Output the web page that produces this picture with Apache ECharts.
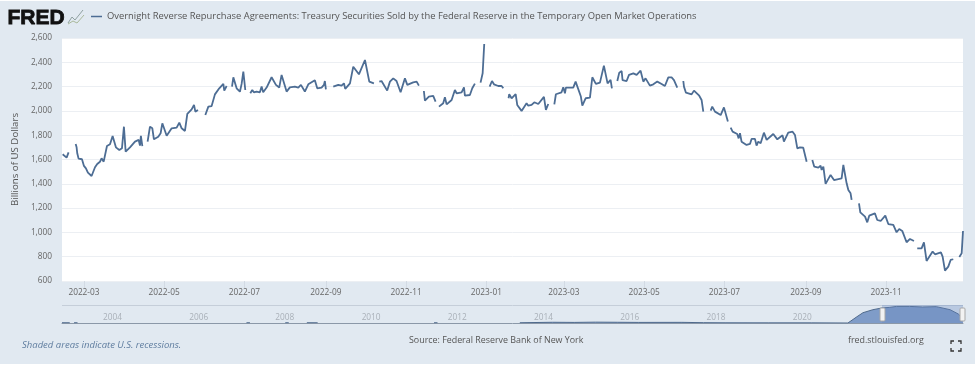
<!DOCTYPE html>
<html>
<head>
<meta charset="utf-8">
<title>FRED</title>
<script src="https://cdn.jsdelivr.net/npm/echarts@6/dist/echarts.min.js"></script>
<style>
  html, body { margin: 0; padding: 0; background: #fff; }
  #chart { width: 975px; height: 367px; background: linear-gradient(#fff 1px, #e1e9f1 1px, #e1e9f1 364px, #fff 364px); }
</style>
</head>
<body>
<div id="chart"></div>
<script>
var seriesName = 'Overnight Reverse Repurchase Agreements: Treasury Securities Sold by the Federal Reserve in the Temporary Open Market Operations'
var monthTicks = ['2022-03','2022-05','2022-07','2022-09','2022-11','2023-01','2023-03','2023-05','2023-07','2023-09','2023-11']
var yearTicks = [2004,2006,2008,2010,2012,2014,2016,2018,2020]

// days counted from 2022-03-01, null = gap in the line
var days = [-16.2,-14.7,-13.2,-11.7,null,
  -6.3,-5.6,-5.1,-4.1,-1.5,0,1.5,3,5.8,6.6,8.4,10.1,12.2,13.4,15,17.5,19.8,21.8,22.8,24.3,26.9,28.9,30.4,31.7,35,38.8,41.6,42.6,43.3,44.4,null,
  48.4,50.2,52,53.2,56.5,58.3,59.6,62.9,66.7,70.5,72.5,74.3,76.8,78.6,81.9,83.7,84.7,86.7,null,
  92.3,94.6,97.1,99.6,102.9,106,106.7,108.5,null,
  112.6,113.6,114.8,116.1,118.6,119.9,121.2,122.7,null,
  126.5,128,129.2,131.3,132.5,133.8,135.1,136.3,138.9,142.7,146,148.5,150.3,154.1,156.6,160.4,163,165,168,170.6,175.6,177.4,180.7,182.5,183.2,184,null,
  189.6,193.4,195.9,197.7,198.7,202.3,204.8,209.1,213.7,217,220.5,null,
  224.6,226.3,230.6,232.7,235.2,237.7,240.8,244.1,245.9,250.4,253,254.7,null,
  258.5,259.3,262.3,265.6,267.4,null,
  270,273.2,274.5,275.8,277,279.6,282.1,283.4,287.2,289,289.7,293.5,295.3,297.3,null,
  301.6,303.2,304.4,null,
  308.5,310.3,311.8,315.1,317.6,318.9,null,
  322.9,323.4,325.2,328.3,329.5,332.8,336.6,337.9,340.4,342.5,345.5,346.8,349.8,351.3,353.1,null,
  357.7,358.9,363.2,364.5,365.8,366.5,372.1,373.9,377.9,379,381.5,384.8,386.6,389.3,392.4,395.4,398.2,400.5,401.5,null,
  405.6,407.1,408.9,409.6,412.7,413.4,414.5,416,417.8,420.3,421.6,423.3,425.4,427.1,430.4,433,436,439.3,441.8,444.4,446.9,448.7,451.2,null,
  455.8,456.3,457.8,462.1,463.9,467.9,469.7,471,null,
  476.6,477.8,479.9,484.2,484.9,486.7,489.7,null,
  491.8,493.3,496.8,497.9,498.9,500.1,503.9,506.5,507.7,510.3,511.5,512.8,514.6,517.1,519.2,524.2,527.3,531.3,532.3,535.6,538.9,540.7,542.5,544.5,547,549.6,null,
  553.9,555.4,558.5,560.2,561,562.3,564,567.8,570.4,576.2,577.5,580,581.3,583,583.8,null,
  589.4,590.4,594,595.7,597.2,601.5,603.3,605.9,609.4,611.7,615.5,618,620,622.3,625.6,628.2,631.2,null,
  633.7,637,638.8,640.8,645.4,647.2,651.7,653,654.8,657.3,659.1,661.1,null,
  665.7,667.5,668.5]
var rrp = [1643,1656,1615,1659,null,
  1728,1700,1651,1607,1602,1547,1527,1492,1464,1459,1536,1563,1582,1610,1582,1711,1725,1794,1802,1700,1678,1692,1870,1665,1700,1747,1761,1714,1794,1711,null,
  1747,1870,1857,1766,1788,1816,1898,1796,1857,1862,1903,1857,1835,1975,2013,2049,1994,2008,null,
  1966,2035,2040,2136,2186,2222,2167,2205,null,
  2200,2276,2282,2186,2158,2222,2323,2172,null,
  2145,2172,2153,2159,2150,2153,2200,2153,2192,2277,2214,2192,2296,2159,2194,2200,2192,2214,2159,2219,2252,2186,2192,2214,2246,2178,null,
  2200,2214,2208,2227,2181,2227,2364,2301,2419,2241,2227,null,
  2241,2246,2167,2241,2268,2246,2153,2268,2214,2235,2241,2208,null,
  2164,2085,2118,2123,2076,null,
  2035,2063,2112,2054,2049,2090,2172,2145,2153,2194,2126,2131,2186,2225,null,
  2233,2310,2551,null,
  2200,2246,2219,2205,2205,2186,null,
  2104,2137,2104,2139,2049,2000,2063,2043,2049,2071,2057,2043,2115,2008,2057,null,
  2054,2137,2153,2194,2145,2192,2192,2241,2118,2043,2104,2109,2277,2222,2233,2373,2227,2255,2186,null,
  2246,2315,2328,2254,2246,2235,2296,2287,2309,2296,2282,2331,2241,2268,2208,2219,2241,2222,2205,2276,2276,2254,2191,null,
  2246,2200,2150,2136,2167,2125,2090,1994,null,
  2002,2035,1994,1966,1953,2029,1912,null,
  1862,1829,1810,1774,1816,1747,1720,1728,1769,1769,1714,1747,1733,1821,1761,1810,1766,1799,1747,1821,1829,1802,1692,1700,1697,1582,null,
  1596,1541,1533,1549,1514,1541,1399,1473,1431,1445,1555,1404,1349,1322,1267,null,
  1239,1165,1130,1083,1138,1157,1102,1094,1138,1069,1061,1001,1028,1012,919,946,929,null,
  869,869,918,765,842,820,836,800,685,718,773,779,null,
  798,828,1012]

// navigator strip, whole history of the series
var navYears = [2003.12,2003.3,null,2003.4,2003.48,null,2007.4,2007.48,null,2008.3,2008.38,null,2008.8,2009.05,null,
  2011.75,2011.83,null,2013.74,2014.5,2015,2015.5,2016,2016.5,2017.5,2018,2018.5,2019.5,2020.5,2021.35,
  2021.56,2021.7,2021.93,2022.14,2022.32,2022.48,2022.78,2023.08,2023.4,2023.72,2023.91,2024.0,2024.02]
var navValues = [40,40,null,40,40,null,40,40,null,40,40,null,40,40,null,
  40,40,null,40,110,90,130,110,90,100,50,30,20,20,0,
  960,1575,2035,2300,2390,2540,2540,2450,2500,2035,1380,800,660]

function dayToTime(d) { return d === null ? null : Date.UTC(2022, 2, 1) + d * 864e5 }
function yearToTime(y) { return y === null ? null : Date.UTC(2003, 0, 1) + (y - 2003) * 365.25 * 864e5 }
var lineData = days.map(function (d, i) { return d === null ? [null, null] : [dayToTime(d), rrp[i]] })
var navData = navYears.map(function (y, i) { return y === null ? [null, null] : [yearToTime(y), navValues[i]] })
var monthValues = monthTicks.map(function (m) { return Date.UTC(+m.slice(0, 4), +m.slice(5) - 1, 1) })
var yearValues = yearTicks.map(function (y) { return Date.UTC(y, 0, 1) })
var font = '"Open Sans", sans-serif'

const chart = echarts.init(document.getElementById('chart'), null, { renderer: 'canvas' })
var options = {
  backgroundColor: 'transparent',
  animation: false,
  legend: {
    data: [{ name: seriesName, icon: 'rect' }],
    left: 86,
    top: 7,
    itemWidth: 11,
    itemHeight: 1.5,
    itemGap: 4,
    textStyle: { color: '#555', fontSize: 9.4, fontFamily: font, padding: [0, 0, 0, 0] }
  },
  grid: [
    { left: 62, top: 38, width: 901, height: 243, show: true, backgroundColor: '#fff', borderWidth: 0 },
    { left: 62, top: 306, width: 901, height: 17, show: false }
  ],
  xAxis: [{
    type: 'value',
    gridIndex: 0,
    min: dayToTime(-16.7),
    max: dayToTime(668.5),
    axisLine: { show: false },
    axisTick: { show: true, length: 7, customValues: monthValues, lineStyle: { color: '#d3dbe4' } },
    splitLine: { show: false },
    axisLabel: {
      customValues: monthValues,
      color: '#666',
      fontSize: 8.3,
      fontFamily: font,
      margin: 8,
      formatter: function (v) { return new Date(v).toISOString().slice(0, 7) }
    }
  }, {
    type: 'value',
    gridIndex: 1,
    min: yearToTime(2003.12),
    max: yearToTime(2024.02),
    axisLine: { show: true, lineStyle: { color: '#8b98a8', width: 1 } },
    axisTick: { show: false },
    splitLine: { show: false },
    axisLabel: {
      customValues: yearValues,
      inside: true,
      margin: 1,
      align: 'left',
      padding: [0, 0, 0, 3],
      color: '#a9b0b8',
      fontSize: 8.3,
      fontFamily: font,
      formatter: function (v) { return String(new Date(v).getUTCFullYear()) }
    }
  }],
  yAxis: [{
    type: 'value',
    gridIndex: 0,
    min: 600,
    max: 2600,
    interval: 200,
    name: 'Billions of US Dollars',
    nameLocation: 'middle',
    nameGap: 40,
    nameTextStyle: { color: '#555', fontSize: 9.7, fontFamily: font },
    axisLine: { show: false },
    axisTick: { show: false },
    splitLine: { lineStyle: { color: '#eceff3', width: 1 } },
    axisLabel: {
      color: '#666',
      fontSize: 8.3,
      fontFamily: font,
      margin: 10,
      formatter: function (v) { return v.toLocaleString('en-US') }
    }
  }, {
    type: 'value',
    gridIndex: 1,
    min: 0,
    max: 2600,
    show: false
  }],
  series: [{
    name: seriesName,
    type: 'line',
    xAxisIndex: 0,
    yAxisIndex: 0,
    data: lineData,
    showSymbol: false,
    connectNulls: false,
    lineStyle: { color: '#4d6d94', width: 1.8 },
    itemStyle: { color: '#4d6d94' }
  }, {
    name: 'navigator',
    type: 'line',
    xAxisIndex: 1,
    yAxisIndex: 1,
    data: navData,
    showSymbol: false,
    connectNulls: false,
    lineStyle: { color: '#4f6a8c', width: 1 },
    areaStyle: { color: '#7f9cc8', opacity: 1 }
  }],
  graphic: [
    { type: 'text', left: 7, top: 7, style: { text: 'FRED', fill: '#111', font: 'bold 21px "Liberation Sans", Arial, sans-serif', stroke: '#111', lineWidth: 0.8 } },
    { type: 'polyline', shape: { points: [[68, 23], [72, 17], [75, 20], [83, 10]] }, style: { stroke: '#8fa0a0', lineWidth: 1, fill: null } },
    { type: 'polyline', shape: { points: [[68, 24], [73, 21], [77, 23], [84, 15]] }, style: { stroke: '#a9b89a', lineWidth: 1, fill: null } },
    { type: 'line', shape: { x1: 62, y1: 305.5, x2: 963, y2: 305.5 }, style: { stroke: '#c5ced9', lineWidth: 1 } },
    { type: 'rect', z: 10, shape: { x: 882, y: 305, width: 81, height: 18 }, style: { fill: 'rgba(102,133,194,0.32)' } },
    { type: 'rect', z: 11, shape: { x: 880, y: 308, width: 5, height: 13, r: 1 }, style: { fill: '#f2f2f2', stroke: '#a8a8a8', lineWidth: 1 } },
    { type: 'rect', z: 11, shape: { x: 960, y: 308, width: 5, height: 13, r: 1 }, style: { fill: '#f2f2f2', stroke: '#a8a8a8', lineWidth: 1 } },
    { type: 'text', left: 22, top: 340, style: { text: 'Shaded areas indicate U.S. recessions.', fill: '#5f7d9f', font: 'italic 9.5px ' + font } },
    { type: 'text', left: 409, top: 336, style: { text: 'Source: Federal Reserve Bank of New York', fill: '#555', font: '8.9px ' + font } },
    { type: 'text', left: 848, top: 336, style: { text: 'fred.stlouisfed.org', fill: '#555', font: '8.9px ' + font } },
    { type: 'polyline', shape: { points: [[951, 344], [951, 341], [954, 341]] }, style: { stroke: '#333', lineWidth: 1.3, fill: null } },
    { type: 'polyline', shape: { points: [[958, 341], [961, 341], [961, 344]] }, style: { stroke: '#333', lineWidth: 1.3, fill: null } },
    { type: 'polyline', shape: { points: [[951, 348], [951, 351], [954, 351]] }, style: { stroke: '#333', lineWidth: 1.3, fill: null } },
    { type: 'polyline', shape: { points: [[958, 351], [961, 351], [961, 348]] }, style: { stroke: '#333', lineWidth: 1.3, fill: null } }
  ]
}
chart.setOption(options)
</script>
</body>
</html>
